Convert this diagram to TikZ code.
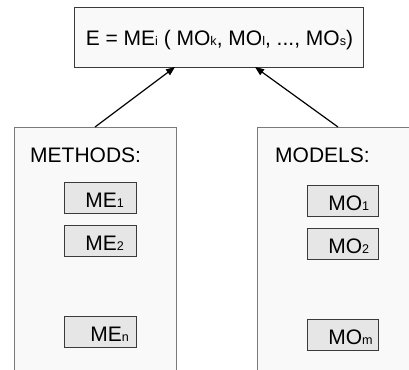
\documentclass[tikz,border=0pt]{standalone}
\usepackage{fontspec}
\setmainfont{Liberation Sans}
\usetikzlibrary{arrows.meta}
\newcommand{\sbx}[1]{{\fontsize{12.6}{12.6}\selectfont #1}}
\definecolor{panelfill}{HTML}{F9F9F9}
\definecolor{panelline}{HTML}{7A7A7A}
\definecolor{itemfill}{HTML}{E6E6E6}
\definecolor{itemline}{HTML}{3A3A3A}
\tikzset{
  panel/.style={draw=panelline, fill=panelfill, line width=0.9pt},
  itembox/.style={draw=itemline, fill=itemfill, line width=0.8pt, minimum height=31pt,
    text width=72pt, inner xsep=0pt, inner ysep=0pt, align=left, anchor=north west,
    text height=20pt, text depth=0pt, font=\fontsize{21}{21}\selectfont},
  topbox/.style={draw=itemline, fill=panelfill, line width=0.8pt, minimum width=289pt,
    minimum height=60pt, inner sep=0pt, anchor=north west, text height=18pt, text depth=2pt,
    font=\fontsize{21}{21}\selectfont},
  lbl/.style={anchor=base west, inner sep=0pt, font=\fontsize{21}{21}\selectfont},
  arr/.style={line width=1.2pt, -{Triangle[length=9pt,width=7pt]}}
}
\begin{document}
\begin{tikzpicture}[x=1pt,y=-1pt]
\useasboundingbox (0,0) rectangle (409,369);
\clip (0,0) rectangle (409,369);
% panels
\draw[panel] (14,380) -- (14,127) -- (176,127) -- (176,380);
\fill[panelfill] (257.5,127.5) rectangle (420,380);
\draw[panelline, line width=0.9pt] (257,380) -- (257,127) -- (420,127);
\coordinate (methods) at (95,127);
\coordinate (models) at (338,127);
\node[lbl] (methodslbl) at (30,162) {METHODS:};
\node[lbl] (modelslbl) at (275,162) {MODELS:};
% top box
\node[topbox] (E) at (74,7) {\hspace*{1pt}E = ME\sbx{i} ( MO\sbx{k}, MO\sbx{l}, ..., MO\sbx{s})};
\coordinate (eL) at (175,67);
\coordinate (eR) at (255,67);
% items
\node[itembox] (me1) at (64,182) {\hspace*{21pt}ME\sbx{1}};
\node[itembox] (me2) at (64,225) {\hspace*{21pt}ME\sbx{2}};
\node[itembox] (men) at (64,316) {\hspace*{26pt}ME\sbx{n}};
\node[itembox, text width=71pt] (mo1) at (307,185) {\hspace*{21pt}MO\sbx{1}};
\node[itembox, text width=71pt] (mo2) at (307,228) {\hspace*{21pt}MO\sbx{2}};
\node[itembox, text width=71pt] (mom) at (307,319) {\hspace*{21pt}MO\sbx{m}};
% arrows
\draw[arr] (methods) -- (eL);
\draw[arr] (models) -- (eR);
\end{tikzpicture}
\end{document}
